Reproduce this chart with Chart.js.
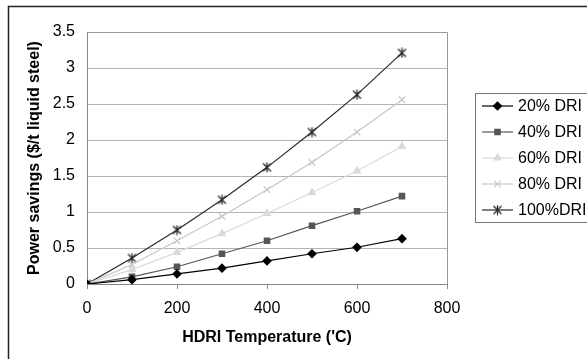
<!DOCTYPE html>
<html>
<head>
<meta charset="utf-8">
<script src="https://cdn.jsdelivr.net/npm/chart.js@4.4.1/dist/chart.umd.min.js"></script>
<style>
  html, body { margin: 0; padding: 0; background: #fff; }
  #wrap { width: 587px; height: 359px; position: relative; }
</style>
</head>
<body>
<div id="wrap"><canvas id="chart"></canvas></div>
<script>
// data
const temps = [0, 100, 200, 300, 400, 500, 600, 700];
const dri20 = [0, 0.06, 0.14, 0.22, 0.32, 0.42, 0.51, 0.63];
const dri40 = [0, 0.10, 0.24, 0.42, 0.60, 0.81, 1.01, 1.22];
const dri60 = [0, 0.20, 0.44, 0.70, 0.98, 1.27, 1.57, 1.91];
const dri80 = [0, 0.27, 0.60, 0.94, 1.31, 1.69, 2.11, 2.56];
const dri100 = [0, 0.36, 0.75, 1.17, 1.62, 2.11, 2.63, 3.21];
const seriesNames = ["20% DRI", "40% DRI", "60% DRI", "80% DRI", "100%DRI"];

const FONT = "'Liberation Sans', Arial, sans-serif";

// excel style asterisk marker: an X with a vertical stroke
function asterisk(color) {
  const c = document.createElement("canvas");
  c.width = 11;
  c.height = 11;
  const g = c.getContext("2d");
  g.strokeStyle = color;
  g.lineWidth = 1.3;
  g.beginPath();
  g.moveTo(1.5, 1.5); g.lineTo(9.5, 9.5);
  g.moveTo(9.5, 1.5); g.lineTo(1.5, 9.5);
  g.moveTo(5.5, 0.5); g.lineTo(5.5, 10.5);
  g.stroke();
  return c;
}

function pts(vals) {
  return vals.map((v, i) => ({ x: temps[i], y: v }));
}

function makeSet(label, vals, color, style, radius) {
  return {
    label: label,
    data: pts(vals),
    borderColor: color,
    backgroundColor: color,
    pointBorderColor: color,
    pointBackgroundColor: color,
    borderWidth: 1.2,
    pointStyle: style,
    pointRadius: radius,
    pointBorderWidth: 1.2,
    tension: 0,
  };
}

const datasets = [
  makeSet(seriesNames[0], dri20, "#000000", "rectRot", 4),
  makeSet(seriesNames[1], dri40, "#555555", "rect", 3.8),
  makeSet(seriesNames[2], dri60, "#dadada", "triangle", 4),
  makeSet(seriesNames[3], dri80, "#c6c6c6", "crossRot", 4.5),
  makeSet(seriesNames[4], dri100, "#2a2a2a", asterisk("#2a2a2a"), 5),
];

// frame around the whole figure, plot border and legend box
const framePlugin = {
  id: "frame",
  beforeDraw(chart) {
    const ctx = chart.ctx;
    ctx.save();
    ctx.strokeStyle = "#222";
    ctx.lineWidth = 1.5;
    ctx.beginPath();
    ctx.moveTo(8.5, chart.height + 5);
    ctx.lineTo(8.5, 6.5);
    ctx.lineTo(chart.width + 5, 6.5);
    ctx.stroke();
    ctx.restore();
  },
  afterDraw(chart) {
    const ctx = chart.ctx;
    const area = chart.chartArea;
    ctx.save();
    ctx.strokeStyle = "#999";
    ctx.lineWidth = 1;
    ctx.beginPath();
    ctx.moveTo(area.left, area.top + 0.5);
    ctx.lineTo(area.right + 0.5, area.top + 0.5);
    ctx.lineTo(area.right + 0.5, area.bottom);
    ctx.stroke();

    // legend
    const lx = 475, ly = 93, lw = 130, lh = 129;
    ctx.strokeStyle = "#777";
    ctx.strokeRect(lx + 0.5, ly + 0.5, lw, lh);
    ctx.font = "16px " + FONT;
    ctx.textBaseline = "middle";
    chart.data.datasets.forEach((ds, i) => {
      const y = ly + 13 + i * 26;
      ctx.strokeStyle = ds.borderColor;
      ctx.fillStyle = ds.borderColor;
      ctx.lineWidth = 1.2;
      ctx.beginPath();
      ctx.moveTo(482, y);
      ctx.lineTo(513, y);
      ctx.stroke();
      Chart.helpers.drawPoint(ctx, {
        pointStyle: ds.pointStyle,
        radius: ds.pointRadius,
        borderWidth: 1.2,
        rotation: 0,
      }, 497.5, y);
      ctx.fillStyle = "#000";
      ctx.fillText(ds.label, 518, y + 1);
    });
    ctx.restore();
  },
};

new Chart(document.getElementById("chart"), {
  type: "line",
  data: { datasets: datasets },
  plugins: [framePlugin],
  options: {
    responsive: true,
    maintainAspectRatio: false,
    animation: false,
    layout: { padding: { left: 0, right: 140, top: 32, bottom: 0 } },
    plugins: {
      legend: { display: false },
      tooltip: { enabled: false },
    },
    scales: {
      x: {
        type: "linear",
        min: 0,
        max: 800,
        afterFit: (s) => { s.height = 75; },
        ticks: { stepSize: 200, color: "#000", font: { family: FONT, size: 16 }, padding: 10 },
        grid: { display: true, drawOnChartArea: false, drawTicks: true, tickLength: 5, color: "#888" },
        border: { color: "#888", width: 1 },
        title: {
          display: true,
          text: "HDRI Temperature ('C)",
          color: "#000",
          font: { family: FONT, size: 16, weight: "bold" },
          padding: { top: 0, bottom: 12 },
        },
      },
      y: {
        min: 0,
        max: 3.5,
        afterFit: (s) => { s.width = 87; },
        ticks: {
          stepSize: 0.5,
          color: "#000",
          font: { family: FONT, size: 16 },
          padding: 12,
          callback: (v) => String(v),
        },
        grid: { color: "#b4b4b4", drawTicks: false },
        border: { color: "#888", width: 1 },
        title: {
          display: true,
          text: "Power savings ($/t liquid steel)",
          color: "#000",
          font: { family: FONT, size: 16, weight: "bold" },
          padding: { top: 25, bottom: 0 },
        },
      },
    },
  },
});
</script>
</body>
</html>
